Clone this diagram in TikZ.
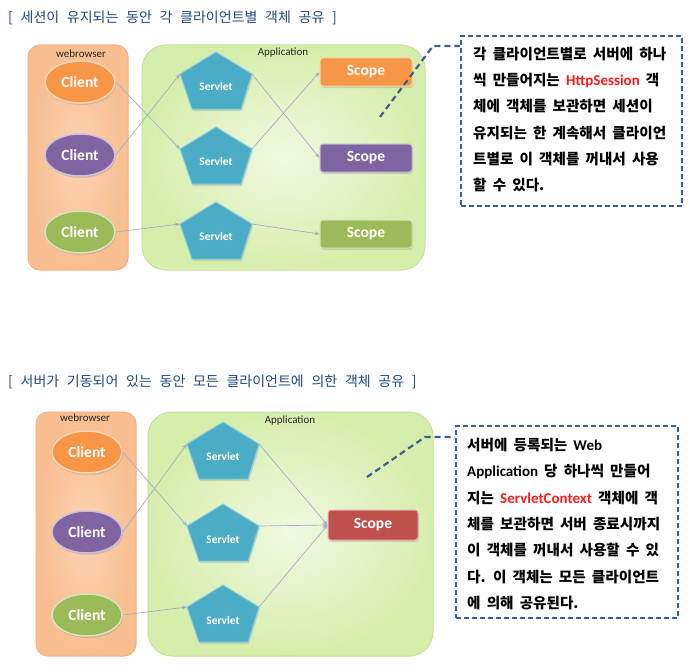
\documentclass[tikz,border=0pt]{standalone}
\usepackage{fontspec}
\setmainfont{Carlito}
\newfontfamily\kr{Noto Sans CJK KR}
\usetikzlibrary{arrows.meta,calc,shapes.geometric,shadows}
\definecolor{titleblue}{HTML}{1F497D}
\definecolor{dashblue}{HTML}{3D5F8F}
\definecolor{cOrange}{HTML}{F79646}
\definecolor{cPurple}{HTML}{8064A2}
\definecolor{cGreen}{HTML}{9BBB59}
\definecolor{cRed}{HTML}{C0504D}
\definecolor{cServ}{HTML}{4BACC6}
\definecolor{servEdge}{HTML}{8CCBDD}
\definecolor{arrowgray}{HTML}{9FB0C8}
\definecolor{peachA}{HTML}{FBD3B3}
\definecolor{peachB}{HTML}{F8BE90}
\definecolor{peachEdge}{HTML}{F2B083}
\definecolor{appIn}{HTML}{F1F9E2}
\definecolor{appOut}{HTML}{D6EEAC}
\definecolor{appEdge}{HTML}{C6E19B}
\definecolor{hlred}{HTML}{FF1A1A}
\newcommand\mytitlefont{\kr\fontsize{14}{16}\selectfont\spaceskip 0.55em\relax}
\newcommand\myboxfont{\kr\bfseries\fontsize{14.6}{16}\selectfont\spaceskip 0.42em\relax}
\newcommand\lat[1]{{\rmfamily\bfseries\fontsize{15}{16}\selectfont #1}}
\tikzset{
  browserpanel/.style={rounded corners=12pt, draw=peachEdge, line width=1pt, inner color=peachA, outer color=peachB},
  apppanel/.style={rounded corners=24pt, draw=appEdge, line width=1pt, inner color=appIn, outer color=appOut},
  panellabel/.style={inner sep=0, font=\fontsize{11}{13}\selectfont, text=black!85},
  client/.style={ellipse, minimum width=70pt, minimum height=42pt, inner sep=0, fill=#1, draw=#1!40!white, line width=1.5pt,
    text=white, font=\bfseries\fontsize{15.5}{17}\selectfont, drop shadow={opacity=0.25, shadow xshift=1pt, shadow yshift=-2pt}},
  scope/.style={rectangle, rounded corners=3pt, minimum width=92pt, minimum height=28pt, inner sep=0, fill=#1, draw=#1!45!white, line width=1pt,
    text=white, font=\bfseries\fontsize{15.5}{17}\selectfont, drop shadow={opacity=0.25, shadow xshift=1pt, shadow yshift=-2pt}},
  servletshape/.style={fill=cServ, draw=servEdge, line width=1pt, line join=round, drop shadow={opacity=0.25, shadow xshift=1pt, shadow yshift=-2pt}},
  servlettext/.style={inner sep=0, text=white, font=\bfseries\fontsize{11.5}{13}\selectfont},
  conn/.style={draw=arrowgray, line width=0.7pt, -{Stealth[length=5pt,width=4pt]}},
  callout/.style={draw=dashblue, line width=2pt, dash pattern=on 5pt off 3pt, fill=none, rectangle, inner sep=0},
  calloutline/.style={draw=dashblue, line width=2.2pt, dash pattern=on 6pt off 4pt},
  titletext/.style={anchor=base west, inner sep=0, text=titleblue, font=\mytitlefont},
  boxtext/.style={anchor=base west, inner sep=0, text=black, font=\myboxfont},
}
\newcommand\servletnode[2]{%
  \coordinate (#1) at (#2);
  \path (#1) ++(0,-35) coordinate (#1-t)
        (#1) ++(-36,-13) coordinate (#1-ul)
        (#1) ++(36,-13) coordinate (#1-ur)
        (#1) ++(-24,22) coordinate (#1-ll)
        (#1) ++(25,22) coordinate (#1-lr);
  \filldraw[servletshape] (#1-t) -- (#1-ur) -- (#1-lr) -- (#1-ll) -- (#1-ul) -- cycle;
  \node[servlettext] (#1-txt) at (#1) {Servlet};
}
\newcommand\hl[1]{\textcolor{hlred}{\lat{#1}}}
\begin{document}
\begin{tikzpicture}[x=1pt,y=-1pt]
\useasboundingbox[fill=white] (0,0) rectangle (690,669);

% ================= TOP DIAGRAM =================
\node[titletext] (title1) at (8,22.5) {[ 세션이 유지되는 동안 각 클라이언트별 객체 공유 ]};

\draw[browserpanel] (28,45) rectangle (128,270);
\draw[apppanel] (142,45) rectangle (425,270);
\node[panellabel] (wb1) at (81,54) {webrowser};
\node[panellabel] (app1) at (283,53) {Application};

\node[client=cOrange] (c1) at (80,82) {Client};
\node[client=cPurple] (c2) at (80,155) {Client};
\node[client=cGreen] (c3) at (80,232) {Client};

\servletnode{s1}{216,87}
\servletnode{s2}{216,162}
\servletnode{s3}{216,237}

\node[scope=cOrange] (sc1) at (366,72) {Scope};
\node[scope=cPurple] (sc2) at (366,158) {Scope};
\node[scope=cGreen] (sc3) at (366,234) {Scope};

\draw[conn] (c1.east) -- (s2-ul);
\draw[conn] (c2.east) -- (s1-ul);
\draw[conn] (c3.east) -- (s3-ul);
\draw[conn] (s1-ur) -- (sc2.west);
\draw[conn] (s2-ur) -- (sc1.west);
\draw[conn] (s3-ur) -- (sc3.west);

\node[callout, minimum width=221pt, minimum height=170pt, anchor=north west] (b1) at (460,35) {};
\coordinate (d1a) at (380,117);
\coordinate (d1b) at (433,46);
\draw[calloutline] (d1a) -- (d1b) -- (d1b -| b1.west);

\node[boxtext] (t1a) at (473,59.5) {각 클라이언트별로 서버에 하나};
\node[boxtext] (t1b) at (473,85.7) {씩 만들어지는 \hl{HttpSession} 객};
\node[boxtext] (t1c) at (473,111.9) {체에 객체를 보관하면 세션이};
\node[boxtext] (t1d) at (473,138.1) {유지되는 한 계속해서 클라이언};
\node[boxtext] (t1e) at (473,164.3) {트별로 이 객체를 꺼내서 사용};
\node[boxtext] (t1f) at (473,190.5) {할 수 있다.};

% ================= BOTTOM DIAGRAM =================
\node[titletext] (title2) at (8,386.5) {[ 서버가 기동되어 있는 동안 모든 클라이언트에 의한 객체 공유 ]};

\draw[browserpanel] (36,412) rectangle (136,656);
\draw[apppanel] (148,412) rectangle (433,656);
\node[panellabel] (wb2) at (85,418) {webrowser};
\node[panellabel] (app2) at (290,421) {Application};

\node[client=cOrange] (d1) at (87,452) {Client};
\node[client=cPurple] (d2) at (87,532) {Client};
\node[client=cGreen] (d3) at (87,615) {Client};

\servletnode{t1}{223,457}
\servletnode{t2}{223,539}
\servletnode{t3}{223,620}

\node[scope=cRed, minimum width=90pt, minimum height=30pt] (scr) at (373,525) {Scope};

\draw[conn] (d1.east) -- (t2-ul);
\draw[conn] (d2.east) -- (t1-ul);
\draw[conn] (d3.east) -- (t3-ul);
\draw[conn] (t1-ur) -- (scr.west);
\draw[conn] (t2-ur) -- (scr.west);
\draw[conn] (t3-ur) -- (scr.west);

\node[callout, minimum width=222pt, minimum height=192pt, anchor=north west] (b2) at (455,425) {};
\coordinate (e1a) at (367,477);
\coordinate (e1b) at (425,437);
\draw[calloutline] (e1a) -- (e1b) -- (e1b -| b2.west);

\node[boxtext] (u1a) at (467,450.5) {서버에 등록되는 \lat{Web}};
\node[boxtext] (u1b) at (467,476.8) {\lat{Application} 당 하나씩 만들어};
\node[boxtext] (u1c) at (467,503.1) {지는 \hl{ServletContext} 객체에 객};
\node[boxtext] (u1d) at (467,529.4) {체를 보관하면 서버 종료시까지};
\node[boxtext] (u1e) at (467,555.7) {이 객체를 꺼내서 사용할 수 있};
\node[boxtext] (u1f) at (467,582) {다. 이 객체는 모든 클라이언트};
\node[boxtext] (u1g) at (467,608.3) {에 의해 공유된다.};
\end{tikzpicture}
\end{document}
